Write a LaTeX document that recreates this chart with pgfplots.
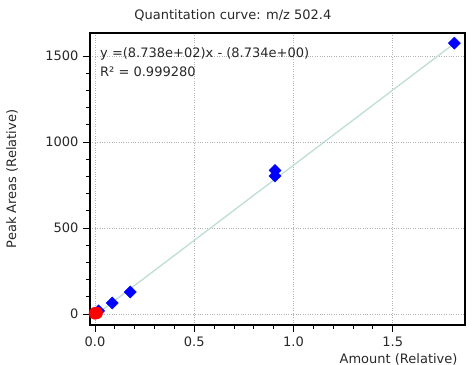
\documentclass[border=0pt]{standalone}
\usepackage{fontspec}
\setmainfont{DejaVu Sans}
\usepackage{pgfplots}
\pgfplotsset{compat=1.18}
\definecolor{fitline}{RGB}{190,222,212}
\definecolor{txt}{RGB}{40,40,40}
\begin{document}
\fontsize{13bp}{16bp}\selectfont
\begin{tikzpicture}
\path[use as bounding box] (0,0) rectangle (475bp,365bp);
\begin{axis}[
  at={(90bp,40bp)}, anchor=south west,
  scale only axis, width=375bp, height=292bp,
  xmin=-0.025, xmax=1.864, ymin=-64, ymax=1634,
  xtick={0,0.5,1,1.5}, ytick={0,500,1000,1500},
  minor x tick num=4, minor y tick num=4,
  tick align=outside, xtick pos=left, ytick pos=left,
  major tick length=7bp, minor tick length=3.5bp,
  xmajorgrids, ymajorgrids,
  grid style={dotted, black!30, line width=0.9bp},
  axis line style={line width=1.2bp, black},
  every tick/.style={black, line width=0.8bp},
  /pgf/number format/assume math mode=true,
  xticklabel style={/pgf/number format/fixed, /pgf/number format/fixed zerofill, /pgf/number format/precision=1, text=txt},
  yticklabel style={/pgf/number format/1000 sep={}, text=txt},
  title={Quantitation curve: m/z 502.4},
  title style={at={(axis description cs:0.381,1)}, anchor=south, yshift=1bp, text=txt},
  xlabel={Amount (Relative)},
  xlabel style={at={(axis description cs:1,0)}, anchor=north east, yshift=-24bp, xshift=-3bp, text=txt},
  ylabel={Peak Areas (Relative)},
  ylabel style={at={(axis description cs:-0.208,0.5)}, anchor=center, text=txt},
]
\addplot[color=fitline, line width=1.3bp, no marks] coordinates {(0,-8.734) (1.82,1581.6)};
\addplot[only marks, mark=square*, mark size=4.3bp, mark options={rotate=45, fill=blue, draw=blue}] coordinates {(0.018,18) (0.087,64) (0.178,128) (0.907,802) (0.907,835) (1.81,1575)};
\addplot[only marks, mark=*, mark size=6bp, mark options={fill=red, draw=red}] coordinates {(0,4) (0.008,6)};
\node[anchor=north west, align=left, inner sep=0pt, text=txt, font={\fontsize{13bp}{19bp}\selectfont}] at (rel axis cs:0,1) [xshift=10bp, yshift=-14bp] {y =(8.738e+02)x - (8.734e+00)\\R² = 0.999280};
\end{axis}
\end{tikzpicture}
\end{document}
